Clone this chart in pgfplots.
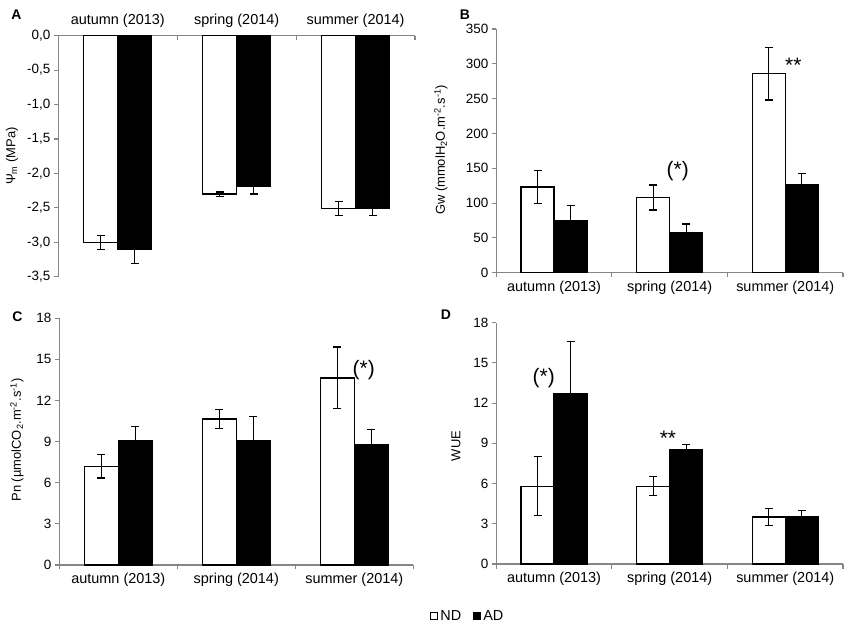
\documentclass[border=0pt]{standalone}
\usepackage{fontspec}
\setmainfont{Liberation Sans}
\usepackage{pgfplots}
\pgfplotsset{compat=1.18}
\definecolor{axgray}{RGB}{134,134,134}
\tikzset{sigtext/.style={font=\fontsize{21}{23}\selectfont}}
\pgfplotsset{
  panel/.style={
    scale only axis,
    anchor=south west,
    xmin=0.5, xmax=3.5,
    xtick={0.5,1.5,2.5,3.5},
    xticklabels={autumn (2013),spring (2014),summer (2014)},
    x tick label as interval,
    ybar=0pt,
    bar width=0.2857,
    axis y line*=left,
    axis line style={draw=axgray, line width=1.1bp},
    every tick/.style={draw=axgray, line width=1.1bp},
    major tick length=4.5bp,
    ytick align=outside,
    /pgf/number format/assume math mode=true,
    xticklabel style={font=\fontsize{14.5}{17}\selectfont, text=black},
    yticklabel style={font=\fontsize{13.5}{16}\selectfont, text=black},
    clip=false,
  },
  nd/.style={draw=black, fill=white, line width=1.2bp,
    error bars/.cd, y dir=both, y explicit,
    error bar style={black, line width=1.2bp},
    error mark options={rotate=90, black, mark size=4bp, line width=1.2bp}},
  ad/.style={draw=black, fill=black, line width=1.2bp,
    error bars/.cd, y dir=both, y explicit,
    error bar style={black, line width=1.2bp},
    error mark options={rotate=90, black, mark size=4bp, line width=1.2bp}},
}
\begin{document}
\begin{tikzpicture}
\path[use as bounding box] (0,0) rectangle (856bp,623bp);

% Panel A
\begin{axis}[panel,
  at={(58.3bp,346.3bp)}, width=356.7bp, height=241bp,
  axis x line*=top, xtick align=inside,
  xticklabel style={yshift=5bp},
  ymin=-3.5, ymax=0, ytick={-3.5,-3,-2.5,-2,-1.5,-1,-0.5,0},
  yticklabel style={/pgf/number format/.cd, fixed, fixed zerofill, precision=1, use comma},
]
\addplot[nd] coordinates {(1,-3.0) +- (0,0.1) (2,-2.3) +- (0,0.03) (3,-2.51) +- (0,0.1)};
\addplot[ad] coordinates {(1,-3.1) +- (0,0.21) (2,-2.19) +- (0,0.11) (3,-2.51) +- (0,0.1)};
\end{axis}

% Panel B
\begin{axis}[panel,
  at={(496.3bp,350.3bp)}, width=346.7bp, height=243.7bp,
  axis x line*=bottom, xtick align=outside,
  ymin=0, ymax=350, ytick={0,50,...,350},
]
\addplot[nd] coordinates {(1,123) +- (0,23.5) (2,108) +- (0,18) (3,286) +- (0,38)};
\addplot[ad] coordinates {(1,75) +- (0,21) (2,57) +- (0,13) (3,126) +- (0,17)};
\node[sigtext] at (axis cs:2.07,146) {(*)};
\node[sigtext] at (axis cs:3.07,298) {**};
\end{axis}

% Panel C
\begin{axis}[panel,
  at={(59.3bp,58bp)}, width=354bp, height=246.7bp,
  axis x line*=bottom, xtick align=outside,
  ymin=0, ymax=18, ytick={0,3,...,18},
]
\addplot[nd] coordinates {(1,7.2) +- (0,0.85) (2,10.65) +- (0,0.7) (3,13.65) +- (0,2.25)};
\addplot[ad] coordinates {(1,9.05) +- (0,1.05) (2,9.1) +- (0,1.75) (3,8.75) +- (0,1.15)};
\node[sigtext] at (axis cs:3.08,14.2) {(*)};
\end{axis}

% Panel D
\begin{axis}[panel,
  at={(496.3bp,59bp)}, width=346.7bp, height=241.3bp,
  axis x line*=bottom, xtick align=outside,
  ymin=0, ymax=18, ytick={0,3,...,18},
  legend style={at={(-0.082,-0.215)}, anchor=center, draw=none, fill=none,
    legend columns=2, font=\fontsize{14.5}{17}\selectfont,
    /tikz/every even column/.append style={column sep=10bp},
    inner sep=0pt},
  legend image code/.code={\draw[#1, line width=1bp] (0bp,-3.5bp) rectangle (7bp,3.5bp);},
]
\addplot[nd] coordinates {(1,5.8) +- (0,2.2) (2,5.8) +- (0,0.7) (3,3.5) +- (0,0.65)};
\addplot[ad] coordinates {(1,12.7) +- (0,3.9) (2,8.5) +- (0,0.4) (3,3.55) +- (0,0.45)};
\legend{ND,AD}
\node[sigtext] at (axis cs:0.91,13.9) {(*)};
\node[sigtext] at (axis cs:1.985,9.4) {**};
\end{axis}

% y labels
\node[rotate=90, font=\fontsize{13}{15}\selectfont] at (12bp,467bp) {Ψ\textsubscript{m} (MPa)};
\node[rotate=90, font=\fontsize{13}{15}\selectfont] at (441bp,473bp) {Gw (mmolH\textsubscript{2}O.m\textsuperscript{-2}.s\textsuperscript{-1})};
\node[rotate=90, font=\fontsize{13}{15}\selectfont] at (17bp,183bp) {Pn (µmolCO\textsubscript{2}.m\textsuperscript{-2}.s\textsuperscript{-1})};
\node[rotate=90, font=\fontsize{13}{15}\selectfont] at (456bp,177bp) {WUE};

% panel letters
\node[font=\bfseries\fontsize{14}{16}\selectfont] at (16.5bp,608bp) {A};
\node[font=\bfseries\fontsize{14}{16}\selectfont] at (465bp,608bp) {B};
\node[font=\bfseries\fontsize{14}{16}\selectfont] at (17.5bp,306bp) {C};
\node[font=\bfseries\fontsize{14}{16}\selectfont] at (446bp,308bp) {D};
\end{tikzpicture}
\end{document}
